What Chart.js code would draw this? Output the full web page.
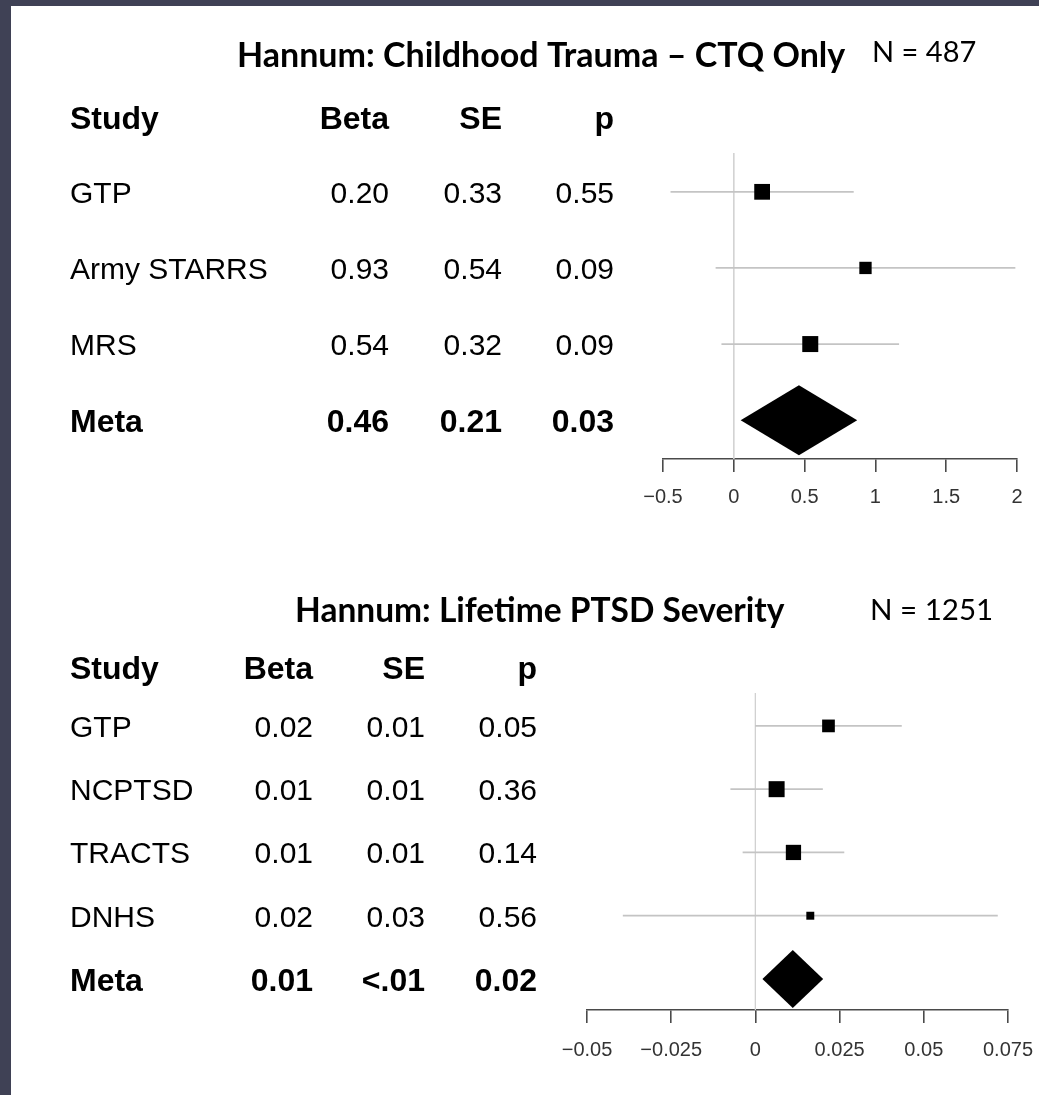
<!DOCTYPE html>
<html>
<head>
<meta charset="utf-8">
<title>Hannum forest plots</title>
<script src="https://cdn.jsdelivr.net/npm/chart.js@4.4.1/dist/chart.umd.min.js"></script>
<style>
  html, body { margin: 0; padding: 0; background: #3f4155; width: 1039px; height: 1095px; overflow: hidden; }
  #sheet { position: absolute; left: 11px; top: 6px; width: 1028px; height: 1089px; background: #ffffff; }
  canvas { position: absolute; left: 0; }
  #ctq { top: 0; }
  #ptsd { top: 545px; }
</style>
</head>
<body>
<div id="sheet"></div>
<canvas id="ctq" width="1039" height="545"></canvas>
<canvas id="ptsd" width="1039" height="550"></canvas>
<script>
// ---- Childhood Trauma (CTQ only) ----
const ctqStudies = ['GTP', 'Army STARRS', 'MRS', 'Meta'];
const ctqBeta    = [0.20, 0.93, 0.54, 0.46];
const ctqSE      = [0.33, 0.54, 0.32, 0.21];
const ctqP       = [0.55, 0.09, 0.09, 0.03];
const ctqTicks   = [-0.5, 0, 0.5, 1, 1.5, 2];

// ---- Lifetime PTSD severity ----
const ptsdStudies = ['GTP', 'NCPTSD', 'TRACTS', 'DNHS', 'Meta'];
const ptsdBeta    = [0.0217, 0.0063, 0.0113, 0.0163, 0.0111];
const ptsdSE      = [0.0111, 0.0070, 0.0077, 0.0284, 0.0046];
const ptsdP       = [0.05, 0.36, 0.14, 0.56, 0.02];
const ptsdTicks   = [-0.05, -0.025, 0, 0.025, 0.05, 0.075];

const Z = 1.96;
const BODY_FONT = "'Liberation Sans', Arial, Helvetica, sans-serif";
const TITLE_FONT = "Lato, 'Open Sans', sans-serif";

function fmt2(v) {
  const s = v.toFixed(2);
  return s === '0.00' ? '<.01' : s;
}
function fmtTick(v) {
  const s = String(Math.abs(v));
  return v < 0 ? '\u2212' + s : s;
}

// Draws the title, N, column headers and the per-study table rows,
// with each row placed at its own position on the y scale.
const forestTable = {
  id: 'forestTable',
  afterDraw(chart, args, o) {
    const ctx = chart.ctx;
    const ys = chart.scales.y;
    const base = (cy, size) => cy + 0.36 * size;
    ctx.save();
    ctx.fillStyle = '#000';
    ctx.textAlign = 'left';
    ctx.textBaseline = 'alphabetic';

    ctx.font = `bold ${o.titleSize}px ${TITLE_FONT}`;
    ctx.fillText(o.title, o.titleX, base(o.titleY, o.titleSize));
    ctx.font = `${o.nSize}px ${TITLE_FONT}`;
    ctx.fillText(o.nText, o.nX, base(o.nY, o.nSize));

    const drawRow = (cells, cy, bold, size) => {
      ctx.font = `${bold ? 'bold ' : ''}${size}px ${BODY_FONT}`;
      ctx.textAlign = 'left';
      ctx.fillText(cells[0], o.studyX, base(cy, size));
      ctx.textAlign = 'right';
      for (let k = 1; k < cells.length; k++) {
        ctx.fillText(cells[k], o.colRight[k - 1], base(cy, size));
      }
    };

    drawRow(['Study', 'Beta', 'SE', 'p'], o.headerY, true, o.headSize);

    const n = o.studies.length;
    for (let i = 0; i < n; i++) {
      const isMeta = i === n - 1;
      drawRow([o.studies[i], fmt2(o.beta[i]), fmt2(o.se[i]), fmt2(o.p[i])],
        ys.getPixelForValue(i + 1), isMeta, isMeta ? o.headSize : o.rowSize);
    }
    ctx.restore();
  }
};

// Summary diamond for the pooled estimate (last row).
const metaDiamond = {
  id: 'metaDiamond',
  afterDatasetsDraw(chart, args, o) {
    const xs = chart.scales.x, ys = chart.scales.y;
    const i = o.beta.length - 1;
    const b = o.beta[i], s = o.se[i], row = i + 1;
    const ctx = chart.ctx;
    ctx.save();
    ctx.fillStyle = '#000';
    ctx.beginPath();
    ctx.moveTo(xs.getPixelForValue(b - Z * s), ys.getPixelForValue(row));
    ctx.lineTo(xs.getPixelForValue(b), ys.getPixelForValue(row - o.half));
    ctx.lineTo(xs.getPixelForValue(b + Z * s), ys.getPixelForValue(row));
    ctx.lineTo(xs.getPixelForValue(b), ys.getPixelForValue(row + o.half));
    ctx.closePath();
    ctx.fill();
    ctx.restore();
  }
};

function forestChart(canvasId, studies, beta, se, p, ticks, cfg) {
  const meta = studies.length - 1;
  const datasets = [];

  // reference line at zero (drawn underneath everything)
  datasets.push({
    type: 'line', order: 3,
    data: [{ x: 0, y: cfg.yMin }, { x: 0, y: cfg.yMax }],
    borderColor: '#d2d2d2', borderWidth: 1, pointRadius: 0, clip: false
  });

  // confidence intervals
  for (let i = 0; i < meta; i++) {
    datasets.push({
      type: 'line', order: 2,
      data: [{ x: beta[i] - Z * se[i], y: i + 1 }, { x: beta[i] + Z * se[i], y: i + 1 }],
      borderColor: '#c4c4c4', borderWidth: 1.7, pointRadius: 0, clip: false
    });
  }

  // study estimates, box area weighted by precision
  const studySE = se.slice(0, meta);
  const minSE = Math.min(...studySE);
  const radii = studySE.map(s => cfg.boxMax * Math.sqrt(minSE / s) / Math.SQRT2);
  datasets.push({
    type: 'scatter', order: 1,
    data: beta.slice(0, meta).map((b, i) => ({ x: b, y: i + 1 })),
    pointStyle: 'rect',
    pointRadius: radii,
    pointHoverRadius: radii,
    backgroundColor: '#000', borderColor: '#000', borderWidth: 0, clip: false
  });

  return new Chart(document.getElementById(canvasId), {
    type: 'scatter',
    data: { datasets },
    plugins: [forestTable, metaDiamond],
    options: {
      responsive: false,
      animation: false,
      events: [],
      layout: { padding: cfg.padding },
      plugins: {
        legend: { display: false },
        tooltip: { enabled: false },
        title: { display: false },
        forestTable: {
          title: cfg.title, titleX: cfg.titleX, titleY: cfg.titleY, titleSize: cfg.titleSize,
          nText: cfg.nText, nX: cfg.nX, nY: cfg.nY, nSize: cfg.nSize,
          headerY: cfg.headerY, headSize: 32, rowSize: 30,
          studyX: 70, colRight: cfg.colRight,
          studies, beta, se, p
        },
        metaDiamond: { beta, se, half: 0.46 }
      },
      scales: {
        x: {
          type: 'linear',
          position: 'bottom',
          min: ticks[0],
          max: ticks[ticks.length - 1],
          afterBuildTicks: (s) => { s.ticks = ticks.map(v => ({ value: v })); },
          afterFit: (s) => { s.height = 50; s.paddingLeft = 0; s.paddingRight = 0; },
          grid: { display: true, drawOnChartArea: false, drawTicks: true, tickLength: 13, color: '#4a4a4a', lineWidth: 1.6 },
          border: { display: true, color: '#4a4a4a', width: 1.6 },
          ticks: {
            padding: cfg.tickPad,
            color: '#333',
            font: { family: BODY_FONT, size: 20 },
            maxRotation: 0,
            autoSkip: false,
            callback: (v) => fmtTick(v)
          }
        },
        y: {
          type: 'linear',
          display: false,
          reverse: true,
          min: cfg.yMin,
          max: cfg.yMax
        }
      }
    }
  });
}

forestChart('ctq', ctqStudies, ctqBeta, ctqSE, ctqP, ctqTicks, {
  title: 'Hannum: Childhood Trauma \u2013 CTQ Only', titleX: 237, titleY: 55, titleSize: 34,
  nText: 'N = 487', nX: 872, nY: 52, nSize: 29,
  headerY: 117, colRight: [389, 502, 614],
  yMin: 0.49, yMax: 4.51, boxMax: 16, tickPad: 13,
  padding: { left: 663, right: 22, top: 153, bottom: 36 }
});

forestChart('ptsd', ptsdStudies, ptsdBeta, ptsdSE, ptsdP, ptsdTicks, {
  title: 'Hannum: Lifetime PTSD Severity', titleX: 295, titleY: 65, titleSize: 33.5,
  nText: 'N = 1251', nX: 870, nY: 64, nSize: 29.5,
  headerY: 122, colRight: [313, 425, 537],
  yMin: 0.48, yMax: 5.49, boxMax: 16, tickPad: 15,
  padding: { left: 587, right: 31, top: 148, bottom: 35 }
});
</script>
</body>
</html>
